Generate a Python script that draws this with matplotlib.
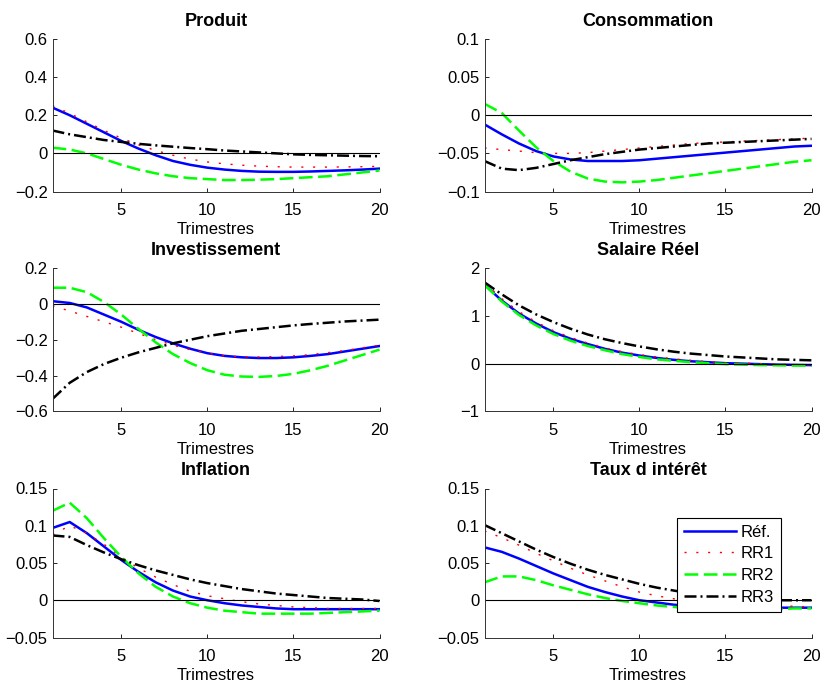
import matplotlib
matplotlib.use('Agg')
import matplotlib.pyplot as plt
import numpy as np

plt.rcParams['font.family'] = ['Liberation Sans', 'DejaVu Sans']

quarters = np.arange(1, 21)
series_names = ['Réf.', 'RR1', 'RR2', 'RR3']

# impulse responses (ref, RR1, RR2, RR3)
produit = [
    [0.24, 0.20, 0.155, 0.11, 0.065, 0.025, -0.01, -0.04, -0.06, -0.075, -0.085, -0.092, -0.096, -0.097, -0.097, -0.095, -0.092, -0.089, -0.085, -0.08],
    [0.25, 0.21, 0.165, 0.12, 0.08, 0.045, 0.015, -0.01, -0.03, -0.045, -0.055, -0.062, -0.067, -0.07, -0.072, -0.072, -0.072, -0.071, -0.07, -0.068],
    [0.03, 0.02, 0.0, -0.03, -0.06, -0.085, -0.105, -0.12, -0.13, -0.135, -0.14, -0.14, -0.138, -0.135, -0.13, -0.125, -0.12, -0.11, -0.1, -0.09],
    [0.12, 0.10, 0.085, 0.07, 0.06, 0.05, 0.042, 0.035, 0.028, 0.022, 0.015, 0.01, 0.005, 0.0, -0.005, -0.008, -0.01, -0.012, -0.014, -0.015],
]
consommation = [
    [-0.012, -0.025, -0.037, -0.047, -0.054, -0.058, -0.06, -0.06, -0.06, -0.059, -0.057, -0.055, -0.053, -0.051, -0.049, -0.047, -0.045, -0.043, -0.041, -0.04],
    [-0.043, -0.045, -0.047, -0.049, -0.05, -0.05, -0.049, -0.047, -0.045, -0.043, -0.041, -0.039, -0.037, -0.036, -0.035, -0.034, -0.033, -0.032, -0.031, -0.03],
    [0.015, 0.003, -0.02, -0.042, -0.06, -0.074, -0.083, -0.087, -0.088, -0.087, -0.085, -0.082, -0.079, -0.076, -0.073, -0.07, -0.067, -0.064, -0.061, -0.059],
    [-0.06, -0.07, -0.072, -0.069, -0.064, -0.059, -0.055, -0.051, -0.048, -0.045, -0.043, -0.041, -0.039, -0.037, -0.036, -0.035, -0.034, -0.033, -0.032, -0.031],
]
investissement = [
    [0.015, 0.005, -0.02, -0.06, -0.1, -0.145, -0.185, -0.22, -0.25, -0.275, -0.29, -0.298, -0.302, -0.302, -0.298, -0.29, -0.28, -0.265, -0.25, -0.235],
    [-0.01, -0.04, -0.07, -0.1, -0.13, -0.165, -0.2, -0.23, -0.255, -0.275, -0.29, -0.295, -0.296, -0.294, -0.29, -0.283, -0.272, -0.26, -0.245, -0.23],
    [0.09, 0.09, 0.065, 0.01, -0.06, -0.14, -0.215, -0.28, -0.33, -0.37, -0.395, -0.405, -0.407, -0.402, -0.39, -0.37, -0.345, -0.315, -0.285, -0.255],
    [-0.53, -0.44, -0.38, -0.335, -0.3, -0.27, -0.245, -0.22, -0.2, -0.18, -0.165, -0.15, -0.14, -0.13, -0.12, -0.112, -0.105, -0.098, -0.093, -0.088],
]
salaire = [
    [1.65, 1.32, 1.05, 0.84, 0.66, 0.52, 0.41, 0.31, 0.23, 0.17, 0.12, 0.08, 0.05, 0.03, 0.01, 0.0, -0.01, -0.02, -0.025, -0.03],
    [1.7, 1.36, 1.09, 0.87, 0.69, 0.55, 0.43, 0.33, 0.25, 0.19, 0.14, 0.1, 0.07, 0.04, 0.02, 0.01, 0.0, -0.01, -0.02, -0.025],
    [1.65, 1.3, 1.02, 0.8, 0.62, 0.48, 0.37, 0.28, 0.2, 0.14, 0.09, 0.06, 0.03, 0.01, -0.01, -0.02, -0.03, -0.035, -0.04, -0.04],
    [1.7, 1.45, 1.22, 1.03, 0.87, 0.73, 0.61, 0.51, 0.43, 0.36, 0.3, 0.25, 0.21, 0.18, 0.15, 0.13, 0.11, 0.09, 0.08, 0.07],
]
inflation = [
    [0.097, 0.105, 0.09, 0.072, 0.054, 0.038, 0.024, 0.013, 0.005, 0.0, -0.004, -0.007, -0.009, -0.011, -0.012, -0.012, -0.012, -0.012, -0.012, -0.012],
    [0.088, 0.1, 0.09, 0.075, 0.058, 0.043, 0.031, 0.021, 0.012, 0.006, 0.002, -0.002, -0.005, -0.007, -0.009, -0.01, -0.011, -0.011, -0.011, -0.011],
    [0.12, 0.131, 0.11, 0.083, 0.058, 0.036, 0.018, 0.005, -0.004, -0.01, -0.014, -0.016, -0.018, -0.018, -0.018, -0.018, -0.017, -0.016, -0.015, -0.014],
    [0.087, 0.085, 0.074, 0.064, 0.055, 0.047, 0.04, 0.034, 0.028, 0.023, 0.019, 0.015, 0.012, 0.009, 0.007, 0.005, 0.003, 0.002, 0.001, -0.001],
]
taux = [
    [0.071, 0.065, 0.056, 0.046, 0.036, 0.027, 0.018, 0.011, 0.005, 0.0, -0.003, -0.006, -0.008, -0.009, -0.01, -0.01, -0.01, -0.01, -0.01, -0.01],
    [0.093, 0.084, 0.074, 0.063, 0.053, 0.043, 0.034, 0.026, 0.018, 0.011, 0.006, 0.002, -0.002, -0.004, -0.006, -0.007, -0.008, -0.008, -0.008, -0.009],
    [0.024, 0.032, 0.032, 0.027, 0.02, 0.014, 0.008, 0.003, -0.001, -0.004, -0.007, -0.009, -0.011, -0.012, -0.012, -0.012, -0.012, -0.012, -0.011, -0.011],
    [0.101, 0.09, 0.079, 0.068, 0.058, 0.049, 0.041, 0.034, 0.028, 0.022, 0.017, 0.013, 0.009, 0.006, 0.004, 0.002, 0.001, 0.0, 0.0, 0.0],
]

titles = ['Produit', 'Consommation', 'Investissement', 'Salaire Réel', 'Inflation', 'Taux d intérêt']
panels = [produit, consommation, investissement, salaire, inflation, taux]
ylims = [(-0.2, 0.6), (-0.1, 0.1), (-0.6, 0.2), (-1, 2), (-0.05, 0.15), (-0.05, 0.15)]
yticks = [[-0.2, 0, 0.2, 0.4, 0.6], [-0.1, -0.05, 0, 0.05, 0.1], [-0.6, -0.4, -0.2, 0, 0.2],
          [-1, 0, 1, 2], [-0.05, 0, 0.05, 0.1, 0.15], [-0.05, 0, 0.05, 0.1, 0.15]]
yticklabels = [['\u22120.2', '0', '0.2', '0.4', '0.6'], ['\u22120.1', '\u22120.05', '0', '0.05', '0.1'],
               ['\u22120.6', '\u22120.4', '\u22120.2', '0', '0.2'], ['\u22121', '0', '1', '2'],
               ['\u22120.05', '0', '0.05', '0.1', '0.15'], ['\u22120.05', '0', '0.05', '0.1', '0.15']]

colors = ['#0000ff', '#ff0000', '#00ff00', '#000000']
widths = [1.8, 1.0, 1.8, 1.8]
dash_patterns = [None, [1.5, 7.0], [5.5, 2.2], [4.8, 1.6, 0.8, 1.6]]

fig = plt.figure(figsize=(8.23, 6.83), dpi=100)

# axes boxes in pixels: left, top, right, bottom
col_x = [52.5, 484.5]
row_y = [(39, 191.5), (268, 411.5), (488.5, 637.5)]
W, H = 823.0, 683.0

for i in range(6):
    r, c = divmod(i, 2)
    x0 = col_x[c]
    top, bot = row_y[r]
    ax = fig.add_axes([x0 / W, 1 - bot / H, 327 / W, (bot - top) / H])
    lines = []
    for k in range(4):
        ln, = ax.plot(quarters, panels[i][k], color=colors[k], linewidth=widths[k])
        if dash_patterns[k] is not None:
            ln.set_dashes(dash_patterns[k])
        lines.append(ln)
    ax.axhline(0, color='black', linewidth=0.8)
    ax.set_xlim(1, 20)
    ax.set_ylim(*ylims[i])
    ax.set_xticks([5, 10, 15, 20])
    ax.set_yticks(yticks[i])
    ax.set_yticklabels(yticklabels[i])
    ax.tick_params(direction='in', labelsize=12, length=3, width=0.6)
    ax.tick_params(axis='x', pad=8)
    ax.tick_params(axis='y', pad=3.5)
    ax.spines['top'].set_visible(False)
    ax.spines['right'].set_visible(False)
    for s in ['left', 'bottom']:
        ax.spines[s].set_linewidth(0.7)
        ax.spines[s].set_color('#333333')
    ax.set_title(titles[i], fontsize=13, fontweight='bold', pad=9.5)
    ax.set_xlabel('Trimestres', fontsize=12, labelpad=3)
    if i == 5:
        leg = ax.legend(lines, series_names, loc='upper left', bbox_to_anchor=(0.59, 0.805),
                        fontsize=12, frameon=True, fancybox=False, framealpha=1,
                        handlelength=3.1, borderpad=0.42, labelspacing=0.4, handletextpad=0.3,
                        borderaxespad=0)
        leg.get_frame().set_edgecolor('black')
        leg.get_frame().set_linewidth(0.8)

fig.savefig('out.png', dpi=100)
